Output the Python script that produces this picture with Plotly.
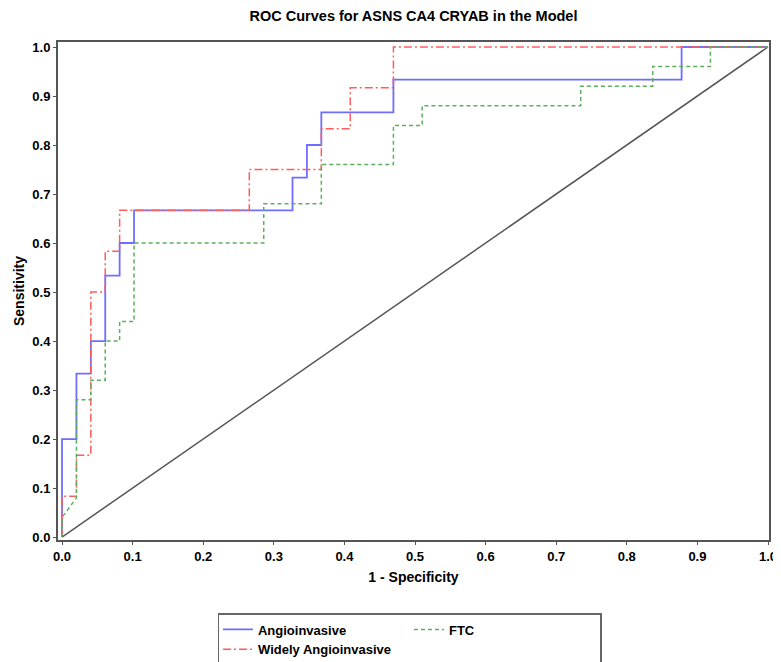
import plotly.graph_objects as go

# ROC curve points (1 - Specificity, Sensitivity)
angio_fpr = [0, 0, 0.0204, 0.0204, 0.0408, 0.0408, 0.0612, 0.0612, 0.0816, 0.0816, 0.102, 0.102,
             0.3265, 0.3265, 0.3469, 0.3469, 0.3673, 0.3673, 0.4694, 0.4694, 0.8776, 0.8776, 1.0]
angio_tpr = [0, 0.2, 0.2, 0.3333, 0.3333, 0.4, 0.4, 0.5333, 0.5333, 0.6, 0.6, 0.6667,
             0.6667, 0.7333, 0.7333, 0.8, 0.8, 0.8667, 0.8667, 0.9333, 0.9333, 1.0, 1.0]

widely_fpr = [0, 0, 0.0204, 0.0204, 0.0408, 0.0408, 0.0612, 0.0612, 0.0816, 0.0816,
              0.2653, 0.2653, 0.3673, 0.3673, 0.4082, 0.4082, 0.4694, 0.4694, 1.0]
widely_tpr = [0, 0.0833, 0.0833, 0.1667, 0.1667, 0.5, 0.5, 0.5833, 0.5833, 0.6667,
              0.6667, 0.75, 0.75, 0.8333, 0.8333, 0.9167, 0.9167, 1.0, 1.0]

ftc_fpr = [0, 0, 0.0204, 0.0204, 0.0408, 0.0408, 0.0612, 0.0612, 0.0816, 0.0816, 0.102, 0.102,
           0.2857, 0.2857, 0.3673, 0.3673, 0.4694, 0.4694, 0.5102, 0.5102, 0.7347, 0.7347,
           0.8367, 0.8367, 0.9184, 0.9184, 1.0]
ftc_tpr = [0, 0.04, 0.08, 0.28, 0.28, 0.32, 0.32, 0.4, 0.4, 0.44, 0.44, 0.6,
           0.6, 0.68, 0.68, 0.76, 0.76, 0.84, 0.84, 0.88, 0.88, 0.92,
           0.92, 0.96, 0.96, 1.0, 1.0]

ref_x = [0, 1]
ref_y = [0, 1]

x_ticks = [0.0, 0.1, 0.2, 0.3, 0.4, 0.5, 0.6, 0.7, 0.8, 0.9, 1.0]
y_ticks = [0.0, 0.1, 0.2, 0.3, 0.4, 0.5, 0.6, 0.7, 0.8, 0.9, 1.0]

FONT = "Liberation Sans, Arial, sans-serif"

fig = go.Figure()
fig.add_trace(go.Scatter(x=ref_x, y=ref_y, mode="lines", showlegend=False,
                         line=dict(color="#555555", width=1.5)))
fig.add_trace(go.Scatter(x=angio_fpr, y=angio_tpr, mode="lines", name="Angioinvasive",
                         legendgroup="g1",
                         line=dict(color="#6f6fff", width=1.8)))
fig.add_trace(go.Scatter(x=widely_fpr, y=widely_tpr, mode="lines", name="Widely Angioinvasive",
                         legendgroup="g1",
                         line=dict(color="#ff5c5c", width=1.5, dash="8px,3px,2px,3px")))
fig.add_trace(go.Scatter(x=ftc_fpr, y=ftc_tpr, mode="lines", name="FTC",
                         legendgroup="g2",
                         line=dict(color="#5cb05c", width=1.5, dash="4px,3px")))

axis_common = dict(showgrid=False, zeroline=False, showline=True, linecolor="#555555",
                   linewidth=2, mirror=True, ticks="outside", ticklen=3, tickwidth=1,
                   tickcolor="#555555", automargin=False,
                   tickfont=dict(family=FONT, size=13, color="black", weight="bold"))

# page body has an 8px default margin, so the figure is sized to fit the window
fig.update_layout(
    width=773, height=654,
    margin=dict(l=50, r=12, t=34, b=122, autoexpand=False),
    paper_bgcolor="white", plot_bgcolor="white",
    title=dict(text="ROC Curves for ASNS CA4 CRYAB in the Model", x=0.5, xanchor="center",
               xref="paper", y=0.988, yanchor="middle",
               font=dict(family=FONT, size=14.5, color="black", weight="bold")),
    xaxis=dict(range=[-0.0057, 1.0014], tickvals=x_ticks, ticktext=[f"{v:.1f}" for v in x_ticks],
               title=dict(text="1 - Specificity", standoff=10,
                          font=dict(family=FONT, size=14, color="black", weight="bold")),
               **axis_common),
    yaxis=dict(range=[-0.006, 1.0102], tickvals=y_ticks, ticktext=[f"{v:.1f}" for v in y_ticks],
               title=dict(text="Sensitivity", standoff=4,
                          font=dict(family=FONT, size=14, color="black", weight="bold")),
               **axis_common),
    legend=dict(orientation="h", traceorder="grouped", x=0.225, xanchor="left",
                y=-0.1466, yanchor="top", bordercolor="#666666", borderwidth=1.5,
                entrywidth=146, tracegroupgap=0,
                font=dict(family=FONT, size=13, color="black", weight="bold")),
)

fig.write_html("out.html")
